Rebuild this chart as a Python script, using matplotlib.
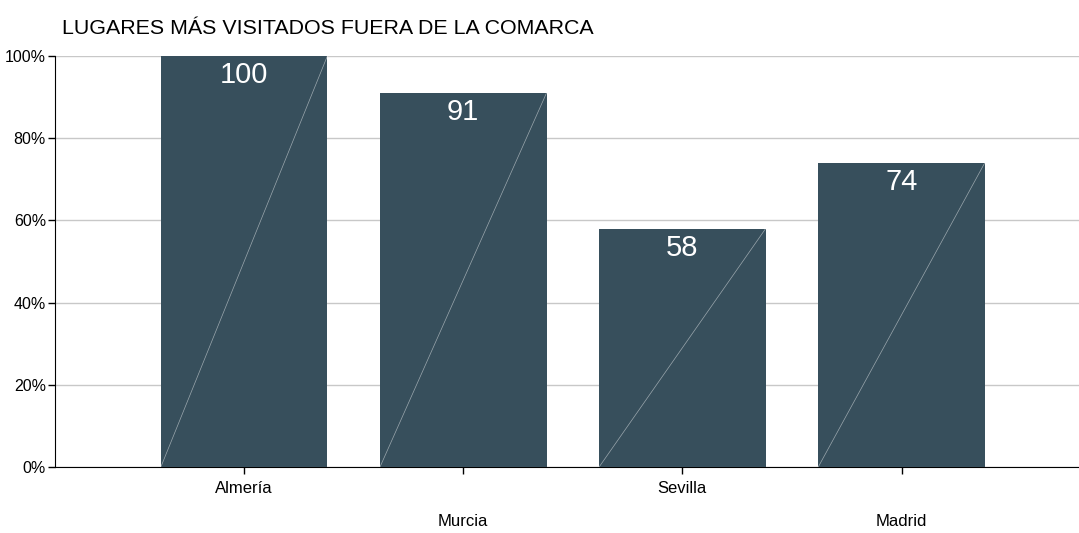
import matplotlib
matplotlib.use("Agg")
import matplotlib.pyplot as plt
import numpy as np
from matplotlib import font_manager

names = {f.name for f in font_manager.fontManager.ttflist}
narrow = 'Liberation Sans Narrow' if 'Liberation Sans Narrow' in names else 'Liberation Sans'
plt.rcParams['font.family'] = [narrow, 'DejaVu Sans']

title = "LUGARES MÁS VISITADOS FUERA DE LA COMARCA"
categories = ["Almería", "Murcia", "Sevilla", "Madrid"]
values = [100, 91, 58, 74]
yticks = [0, 20, 40, 60, 80, 100]
ytick_labels = ["0%", "20%", "40%", "60%", "80%", "100%"]

bar_color = "#374f5c"

fig = plt.figure(figsize=(10.79, 5.33), dpi=100)
ax = fig.add_axes([55/1079, 66/533, 1 - 55/1079, (467-56)/533])

x = np.arange(len(categories))
width = 0.76
bars = ax.bar(x, values, width=width, color=bar_color, zorder=3)

for xi, v in zip(x, values):
    ax.plot([xi - width/2, xi + width/2], [0, v], color="white", lw=0.5, alpha=0.5, zorder=4)
    ax.text(xi, v - 1.2, str(v), ha="center", va="top", color="white", fontsize=21, zorder=5)

ax.set_xlim(-0.863, 3.81)
ax.set_ylim(0, 100)
ax.set_yticks(yticks)
ax.set_yticklabels(ytick_labels, fontsize=11.5)
ax.yaxis.grid(True, color="#c8c8c8", lw=1, zorder=0)
ax.set_axisbelow(True)

ax.set_xticks(x)
ax.set_xticklabels([])
for i, (xi, c) in enumerate(zip(x, categories)):
    ax.annotate(c, xy=(xi, 0), xycoords=("data", "axes fraction"),
                xytext=(0, -14 if i % 2 == 0 else -47), textcoords="offset pixels",
                ha="center", va="top", fontsize=12)

ax.tick_params(axis="x", length=5, width=1, color="black")
ax.tick_params(axis="y", length=5, width=1, color="black", pad=1.5)

for s in ["top", "right"]:
    ax.spines[s].set_visible(False)
ax.spines["left"].set_color("black")
ax.spines["bottom"].set_color("black")

fig.text(62/1079, 1 - 28/533, title, fontsize=15.4, ha="left", va="center")

fig.savefig("out.png", dpi=100)
